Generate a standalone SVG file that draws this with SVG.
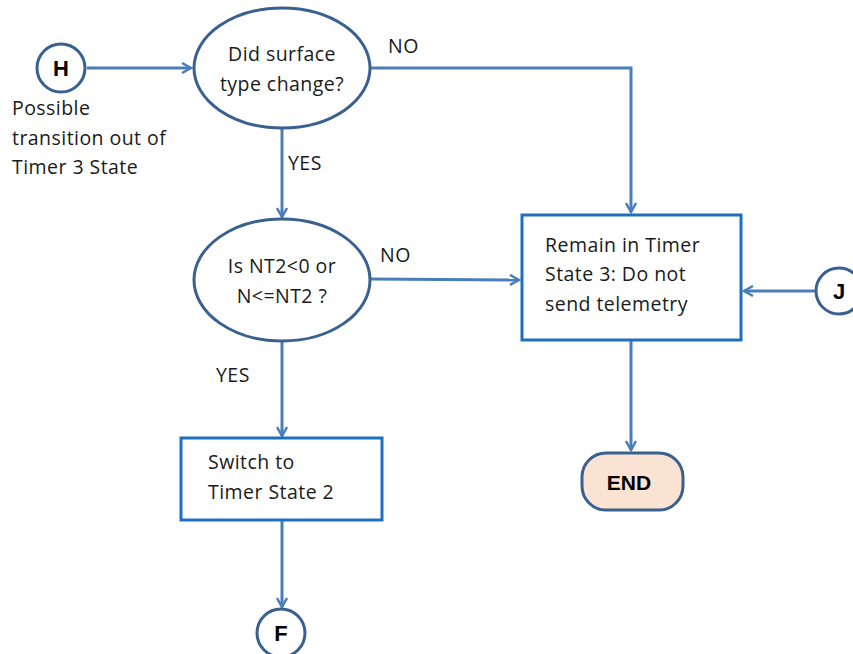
<svg xmlns="http://www.w3.org/2000/svg" width="853" height="654" viewBox="0 0 853 654">
  <style>
    text { font-family: "Open Sans", "Liberation Sans", sans-serif; font-size: 19.5px; letter-spacing: 0.45px; fill: #1a1a1a; }
    .conn { fill: none; stroke: #4a7ebb; stroke-width: 3; }
    .term { fill: #ffffff; stroke: #3a6090; stroke-width: 3; }
    .dec { fill: #ffffff; stroke: #3a6090; stroke-width: 3; }
    .proc { fill: #ffffff; stroke: #1e6fc0; stroke-width: 3; }
    .lbl { font-family: "Liberation Sans", Arial, sans-serif; font-weight: bold; font-size: 22px; letter-spacing: 0; fill: #000; text-anchor: middle; }
    .mid { text-anchor: middle; }
  </style>
  <defs>
    <marker id="arr" viewBox="0 0 12 12" refX="10" refY="6" markerWidth="12" markerHeight="12" markerUnits="userSpaceOnUse" orient="auto">
      <path d="M1,1 L10,6 L1,11" fill="none" stroke="#4a7ebb" stroke-width="2.5"/>
    </marker>
  </defs>

  <rect width="853" height="654" fill="#ffffff"/>

  <g id="connectors">
    <path class="conn" d="M87,68 L191,68" marker-end="url(#arr)"/>
    <path class="conn" d="M370,68 L631,68 L631,212" marker-end="url(#arr)"/>
    <path class="conn" d="M282,129 L282,217" marker-end="url(#arr)"/>
    <path class="conn" d="M370,279 L519,280" marker-end="url(#arr)"/>
    <path class="conn" d="M815,291 L744,291" marker-end="url(#arr)"/>
    <path class="conn" d="M631,341 L631,450" marker-end="url(#arr)"/>
    <path class="conn" d="M282,341 L282,436" marker-end="url(#arr)"/>
    <path class="conn" d="M282,521 L282,607" marker-end="url(#arr)"/>
    <text x="388" y="53">NO</text>
    <text x="288" y="170">YES</text>
    <text x="380" y="262">NO</text>
    <text x="216" y="382">YES</text>
  </g>

  <g id="H">
    <circle class="term" cx="61" cy="68" r="24"/>
    <text class="lbl" x="61" y="76">H</text>
    <text x="12" y="115">Possible</text>
    <text x="12" y="145">transition out of</text>
    <text x="12" y="174">Timer 3 State</text>
  </g>

  <g id="surface-change">
    <ellipse class="dec" cx="282" cy="68" rx="88" ry="60"/>
    <text class="mid" x="282" y="61">Did surface</text>
    <text class="mid" x="282" y="91">type change?</text>
  </g>

  <g id="nt2-check">
    <ellipse class="dec" cx="282" cy="280" rx="88" ry="61"/>
    <text class="mid" x="282" y="273">Is NT2&lt;0 or</text>
    <text class="mid" x="282" y="303">N&lt;=NT2 ?</text>
  </g>

  <g id="remain">
    <rect class="proc" x="522" y="215" width="219" height="125"/>
    <text x="545" y="252">Remain in Timer</text>
    <text x="545" y="281">State 3: Do not</text>
    <text x="545" y="311">send telemetry</text>
  </g>

  <g id="J">
    <circle class="term" cx="839" cy="291" r="23"/>
    <text class="lbl" x="839" y="299">J</text>
  </g>

  <g id="END">
    <rect x="582" y="453" width="101" height="57" rx="24" fill="#fbe3d3" stroke="#3a6090" stroke-width="3"/>
    <text class="lbl" x="629" y="490" style="font-size:21px">END</text>
  </g>

  <g id="switch">
    <rect class="proc" x="181" y="438" width="201" height="82"/>
    <text x="208" y="469">Switch to</text>
    <text x="208" y="499">Timer State 2</text>
  </g>

  <g id="F">
    <circle class="term" cx="281" cy="633" r="24"/>
    <text class="lbl" x="281" y="641">F</text>
  </g>
</svg>
